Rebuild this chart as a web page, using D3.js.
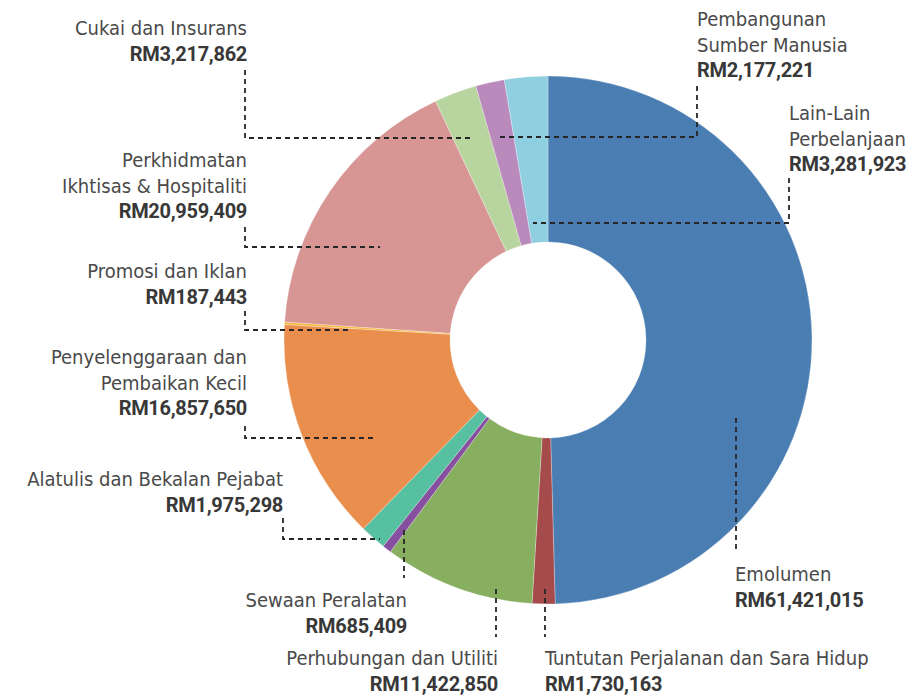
<!DOCTYPE html>
<html>
<head>
<meta charset="utf-8">
<script src="https://cdn.jsdelivr.net/npm/d3@7"></script>
<style>
  body { margin: 0; background: #fff; }
  text { font-family: "DejaVu Sans Condensed", "Liberation Sans Narrow", sans-serif; }
  .val { font-family: Roboto, "DejaVu Sans Condensed", sans-serif; }
</style>
</head>
<body>
<div class="chart-value"></div>
<script>
var width = 918, height = 699;

var categories = [
    "Emolumen",
    "Tuntutan Perjalanan dan Sara Hidup",
    "Perhubungan dan Utiliti",
    "Sewaan Peralatan",
    "Alatulis dan Bekalan Pejabat",
    "Penyelenggaraan dan Pembaikan Kecil",
    "Promosi dan Iklan",
    "Perkhidmatan Ikhtisas & Hospitaliti",
    "Cukai dan Insurans",
    "Pembangunan Sumber Manusia",
    "Lain-Lain Perbelanjaan"
];

var values = [61421015, 1730163, 11422850, 685409, 1975298, 16857650, 187443, 20959409, 3217862, 2177221, 3281923];

var labelLines = [
    ["Emolumen"],
    ["Tuntutan Perjalanan dan Sara Hidup"],
    ["Perhubungan dan Utiliti"],
    ["Sewaan Peralatan"],
    ["Alatulis dan Bekalan Pejabat"],
    ["Penyelenggaraan dan", "Pembaikan Kecil"],
    ["Promosi dan Iklan"],
    ["Perkhidmatan", "Ikhtisas & Hospitaliti"],
    ["Cukai dan Insurans"],
    ["Pembangunan", "Sumber Manusia"],
    ["Lain-Lain", "Perbelanjaan"]
];

var colors = ["#4a7db2", "#a54b4c", "#88ae5f", "#864fa0", "#56c0a0", "#e98e4c", "#f6b63a", "#d79594", "#b8d59f", "#bb8abd", "#8fcfe0"];

// label placement and leader paths (layout only)
var layout = [
    {anchor: "start", x: 735, y: 581, leader: [[736, 418], [736, 551]]},
    {anchor: "start", x: 545, y: 665, leader: [[545, 589], [545, 637]]},
    {anchor: "end", x: 498, y: 665, leader: [[496, 589], [496, 637]]},
    {anchor: "end", x: 407, y: 607, leader: [[404, 530], [404, 578]]},
    {anchor: "end", x: 283, y: 486, leader: [[283, 518], [283, 539], [380, 539]]},
    {anchor: "end", x: 247, y: 364, leader: [[245, 426], [245, 438], [377, 438]]},
    {anchor: "end", x: 247, y: 278, leader: [[245, 311], [245, 330], [348, 330]]},
    {anchor: "end", x: 247, y: 167, leader: [[245, 227], [245, 247], [380, 247]]},
    {anchor: "end", x: 247, y: 35, leader: [[245, 70], [245, 138], [470, 138]]},
    {anchor: "start", x: 697, y: 26, leader: [[697, 86], [697, 137], [500, 137]]},
    {anchor: "start", x: 789, y: 120, leader: [[789, 178], [789, 223], [533, 223]]}
];

var cx = 548, cy = 340, outerR = 264, innerR = 98, lineH = 25.5;

var svg = d3.select(".chart-value")
    .append("svg")
    .attr("width", width)
    .attr("height", height);

var data = categories.map(function(c, i){
    return {name: c, value: values[i], lines: labelLines[i], color: colors[i], pos: layout[i]};
});

var pie = d3.pie()
    .value(function(d){ return d.value; })
    .sort(null);

var arc = d3.arc()
    .innerRadius(innerR)
    .outerRadius(outerR);

svg.append("g")
    .attr("transform", "translate(" + cx + "," + cy + ")")
    .selectAll("path")
    .data(pie(data))
    .enter()
    .append("path")
    .attr("d", arc)
    .attr("fill", function(d){ return d.data.color; })
    .attr("stroke", "#fff")
    .attr("stroke-opacity", 0.35)
    .attr("stroke-width", 0.8);

var line = d3.line();

svg.append("g")
    .selectAll("path")
    .data(data)
    .enter()
    .append("path")
    .attr("d", function(d){ return line(d.pos.leader); })
    .attr("fill", "none")
    .attr("stroke", "#262626")
    .attr("stroke-width", 1.8)
    .attr("stroke-dasharray", "5 4");

var fmt = d3.format(",");

var labels = svg.append("g")
    .selectAll("text")
    .data(data)
    .enter()
    .append("text")
    .attr("text-anchor", function(d){ return d.pos.anchor; })
    .attr("font-size", 20);

labels.each(function(d){
    var t = d3.select(this);
    d.lines.forEach(function(l, i){
        t.append("tspan")
            .attr("x", d.pos.x)
            .attr("y", d.pos.y + i * lineH)
            .attr("fill", "#4a4a4a")
            .text(l);
    });
    t.append("tspan")
        .attr("class", "val")
        .attr("x", d.pos.x)
        .attr("y", d.pos.y + d.lines.length * lineH)
        .attr("fill", "#383838")
        .attr("font-weight", "bold")
        .attr("letter-spacing", -0.3)
        .text("RM" + fmt(d.value));
});
</script>
</body>
</html>
